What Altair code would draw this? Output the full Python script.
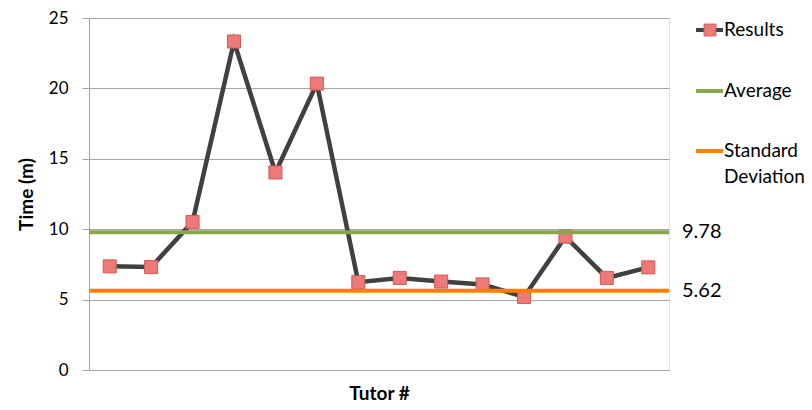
import altair as alt
import pandas as pd

tutors = list(range(1, 15))
results = [7.36, 7.31, 10.52, 23.33, 14.03, 20.34, 6.24, 6.54, 6.28, 6.08, 5.19, 9.47, 6.54, 7.29]
average = 9.78
std_dev = 5.62
legend_names = ["Results", "Average", "Standard Deviation"]
legend_colors = ["#404040", "#8aa64a", "#ff8000"]
y_ticks = [0, 5, 10, 15, 20, 25]

FONT = "Lato"

df = pd.DataFrame({"tutor": tutors, "time": results})
ref = pd.DataFrame({"name": ["Average", "Standard Deviation"],
                    "value": [average, std_dev],
                    "label": [f"{average:.2f}", f"{std_dev:.2f}"]})

x = alt.X("tutor:O", title="Tutor #",
          axis=alt.Axis(labels=False, ticks=False, domain=False,
                        titleFont=FONT, titleFontSize=19, titleFontWeight="bold",
                        titleColor="black", titlePadding=14),
          scale=alt.Scale(padding=0.5))
y = alt.Y("time:Q", title="Time (m)",
          scale=alt.Scale(domain=[0, 25], nice=False),
          axis=alt.Axis(values=y_ticks, grid=True, gridColor="#a6a6a6", gridWidth=1,
                        domainColor="#a6a6a6", tickColor="#a6a6a6", tickSize=7,
                        labelFont=FONT, labelFontSize=17, labelColor="black",
                        labelPadding=14, titleFont=FONT, titleFontSize=19,
                        titleFontWeight="bold", titleColor="black", titlePadding=12))

base = alt.Chart(df)
line = base.mark_line(color="#404040", strokeWidth=4.5).encode(x=x, y=y)
pts = base.mark_square(size=170, fill="#ee7a78", stroke="#cf5a58", strokeWidth=1,
                       opacity=1).encode(x="tutor:O", y="time:Q")

rules = alt.Chart(ref).mark_rule(strokeWidth=4).encode(
    y="value:Q",
    color=alt.Color("name:N", scale=alt.Scale(domain=legend_names[1:], range=legend_colors[1:]),
                    legend=None))
rule_labels = alt.Chart(ref).mark_text(align="left", baseline="middle", font=FONT,
                                       fontSize=20, color="black", dx=0).encode(
    x=alt.value(593), y="value:Q", text="label:N")

# manual legend
leg = pd.DataFrame({"name": legend_names, "label": ["Results", "Average", "Standard"],
                    "ypos": [12, 73, 133]})
leg2 = pd.DataFrame({"label": ["Deviation"], "ypos": [159]})
leg_lines = alt.Chart(leg).mark_rule(strokeWidth=4).encode(
    x=alt.value(607), x2=alt.value(634), y=alt.Y("ypos:Q", scale=None),
    color=alt.Color("name:N", scale=alt.Scale(domain=legend_names, range=legend_colors), legend=None))
leg_sq = alt.Chart(leg[leg.name == "Results"]).mark_square(
    size=140, fill="#ee7a78", stroke="#cf5a58", strokeWidth=1, opacity=1).encode(
    x=alt.value(621), y=alt.Y("ypos:Q", scale=None))
leg_text = alt.Chart(pd.concat([leg[["label", "ypos"]], leg2])).mark_text(
    align="left", baseline="middle", font=FONT, fontSize=19, color="black").encode(
    x=alt.value(635), y=alt.Y("ypos:Q", scale=None), text="label:N")

chart = alt.layer(line, pts, rules, rule_labels, leg_lines, leg_sq, leg_text).resolve_scale(
    color="independent").properties(
    width=580, height=352,
    autosize=alt.AutoSizeParams(type="none"),
    padding={"left": 81, "top": 10, "right": 135, "bottom": 40},
).configure_view(stroke=None).configure(background="white")

chart.save("out.html", embed_options={"renderer": "svg", "actions": False})
